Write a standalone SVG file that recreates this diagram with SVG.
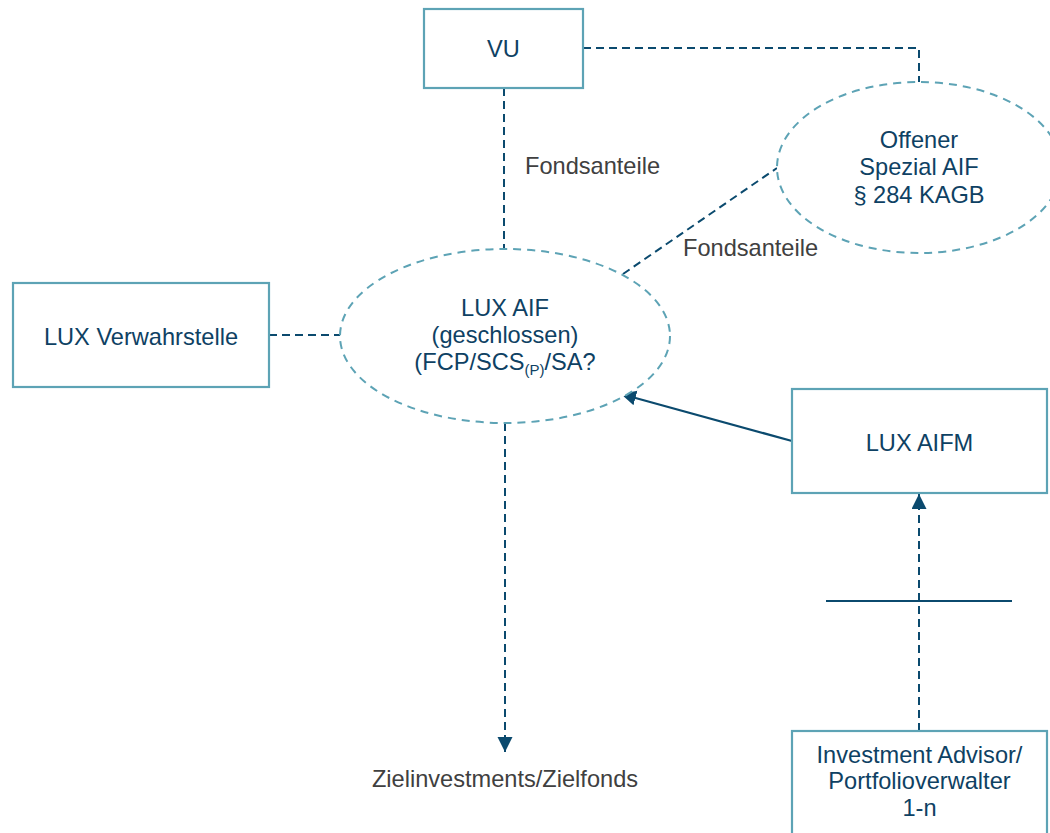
<svg xmlns="http://www.w3.org/2000/svg" width="1050" height="833" viewBox="0 0 1050 833">
<style>
.box{fill:#fff;stroke:#5DA3B5;stroke-width:2.2}
.ell{fill:#fff;stroke:#5DA3B5;stroke-width:2;stroke-dasharray:8 6}
.t{font-family:"Liberation Sans",Arial,sans-serif;font-size:23.6px;fill:#0E4163;text-anchor:middle}
.lbl{font-family:"Liberation Sans",Arial,sans-serif;font-size:23.6px;fill:#404040}
.dash{fill:none;stroke:#0B4A6E;stroke-width:2;stroke-dasharray:8 5}
.solid{fill:none;stroke:#0B4A6E;stroke-width:2.2}
</style>
<defs>
<marker id="ah" markerWidth="16" markerHeight="16" refX="15" refY="7.5" orient="auto" markerUnits="userSpaceOnUse">
<path d="M0,0 L15,7.5 L0,15 Z" fill="#0B4A6E"/>
</marker>
</defs>
<rect width="1050" height="833" fill="#fff"/>
<g id="connectors">
<path class="dash" d="M583,48 H919 V82"/>
<path class="dash" d="M504,88 V249"/>
<path class="dash" d="M623,274 L777,168"/>
<path class="dash" d="M269,335 H340"/>
<path class="dash" d="M505,423 V752" marker-end="url(#ah)"/>
<path class="solid" d="M792,441 L621,394" marker-end="url(#ah)"/>
<path class="dash" d="M919,731 V494" marker-end="url(#ah)"/>
<path class="solid" d="M826,601 H1012"/>
</g>
<g id="vu">
<rect class="box" x="424" y="9" width="159" height="79"/>
<text class="t" x="503.5" y="57">VU</text>
</g>
<g id="offener">
<ellipse class="ell" cx="919" cy="167.5" rx="142" ry="85.5"/>
<text class="t" x="919" y="148">Offener</text>
<text class="t" x="919" y="175">Spezial AIF</text>
<text class="t" x="919" y="203">§ 284 KAGB</text>
</g>
<g id="luxaif">
<ellipse class="ell" cx="505" cy="336" rx="165" ry="87"/>
<text class="t" x="505" y="316">LUX AIF</text>
<text class="t" x="505" y="343">(geschlossen)</text>
<text class="t" x="505" y="370">(FCP/SCS<tspan font-size="15" dy="5">(P)</tspan><tspan dy="-5">/SA?</tspan></text>
</g>
<g id="verwahrstelle">
<rect class="box" x="13" y="283" width="256" height="104"/>
<text class="t" x="141" y="345">LUX Verwahrstelle</text>
</g>
<g id="aifm">
<rect class="box" x="792" y="389" width="255" height="104"/>
<text class="t" x="919.5" y="451">LUX AIFM</text>
</g>
<g id="advisor">
<rect class="box" x="792" y="731" width="255" height="120"/>
<text class="t" x="919.5" y="763">Investment Advisor/</text>
<text class="t" x="919.5" y="789">Portfolioverwalter</text>
<text class="t" x="919.5" y="816">1-n</text>
</g>
<g id="labels">
<text class="lbl" x="525" y="174">Fondsanteile</text>
<text class="lbl" x="683" y="256">Fondsanteile</text>
<text class="lbl" x="505" y="787" text-anchor="middle">Zielinvestments/Zielfonds</text>
</g>
</svg>
